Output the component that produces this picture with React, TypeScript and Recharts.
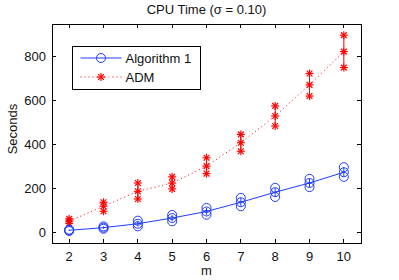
import { LineChart, Line, XAxis, YAxis, ErrorBar } from 'recharts';

const ms = [2, 3, 4, 5, 6, 7, 8, 9, 10];
const algLow = [5, 15, 26, 49, 79, 118, 160, 205, 252];
const algMid = [8, 20, 38, 64, 94, 136, 182, 224, 273];
const algHigh = [11, 26, 52, 78, 110, 156, 202, 243, 296];
const admLow = [40, 95, 151, 197, 267, 369, 484, 621, 751];
const admMid = [50, 118, 186, 224, 301, 408, 530, 672, 824];
const admHigh = [60, 136, 224, 252, 339, 446, 576, 724, 899];
const yTicks = [0, 200, 400, 600, 800];

const X_DOMAIN = [1.5, 10.5];
const Y_DOMAIN = [-50, 950];

const BLUE = '#1f3cff';
const RED = '#ff0000';
const FONT = '"Liberation Sans", Arial, Helvetica, sans-serif';

// chart layout
const W = 399;
const H = 280;
const MARGIN = { top: 24, right: 38, bottom: 0, left: 0 };
const Y_AXIS_W = 52;
const X_AXIS_H = 37;
const PLOT_W = W - MARGIN.left - MARGIN.right - Y_AXIS_W;
const PLOT_H = H - MARGIN.top - MARGIN.bottom - X_AXIS_H;

const rows = ms.map((m, i) => ({
  m,
  algLow: algLow[i],
  alg: algMid[i],
  algHigh: algHigh[i],
  algErr: [algMid[i] - algLow[i], algHigh[i] - algMid[i]],
  admLow: admLow[i],
  adm: admMid[i],
  admHigh: admHigh[i],
  admErr: [admMid[i] - admLow[i], admHigh[i] - admMid[i]],
}));

const TL = 4;
const AXIS = { stroke: '#000', strokeWidth: 1, shapeRendering: 'crispEdges' };

// bottom tick + the matching inward tick on the top edge
function BottomTick({ x, y, payload }: any) {
  const top = y - PLOT_H;
  return (
    <g>
      <line x1={x} y1={y} x2={x} y2={y - TL} {...AXIS} />
      <line x1={x} y1={top} x2={x} y2={top + TL} {...AXIS} />
      <text x={x} y={y + 18} textAnchor="middle" fontSize={13} fontFamily={FONT} fill="#111">
        {payload.value}
      </text>
    </g>
  );
}

// left tick + the matching inward tick on the right edge
function LeftTick({ x, y, payload }: any) {
  const right = x + PLOT_W;
  return (
    <g>
      <line x1={x} y1={y} x2={x + TL} y2={y} {...AXIS} />
      <line x1={right} y1={y} x2={right - TL} y2={y} {...AXIS} />
      <text x={x - 6} y={y + 4.6} textAnchor="end" fontSize={13} fontFamily={FONT} fill="#111">
        {payload.value}
      </text>
    </g>
  );
}

function Circle({ cx, cy }: { cx: number; cy: number }) {
  return <circle cx={cx} cy={cy} r={4.5} fill="none" stroke={BLUE} strokeWidth={1} />;
}

function Star({ cx, cy }: { cx: number; cy: number }) {
  const r = 4;
  const d = r * 0.72;
  return (
    <g stroke={RED} strokeWidth={1.2}>
      <line x1={cx - r} y1={cy} x2={cx + r} y2={cy} />
      <line x1={cx} y1={cy - r} x2={cx} y2={cy + r} />
      <line x1={cx - d} y1={cy - d} x2={cx + d} y2={cy + d} />
      <line x1={cx - d} y1={cy + d} x2={cx + d} y2={cy - d} />
    </g>
  );
}

const circleDot = (p: any) => <Circle key={`c${p.dataKey}${p.index}`} cx={p.cx} cy={p.cy} />;
const starDot = (p: any) => <Star key={`s${p.dataKey}${p.index}`} cx={p.cx} cy={p.cy} />;

export default function App() {
  return (
    <div style={{ position: 'absolute', left: 0, top: 0, width: W, height: H, background: '#fff' }}>
      {/* frame, titles and legend sit underneath the chart layer */}
      <svg width={W} height={H} style={{ position: 'absolute', left: 0, top: 0 }}>
        <rect
          x={MARGIN.left + Y_AXIS_W}
          y={MARGIN.top}
          width={PLOT_W}
          height={PLOT_H}
          fill="none"
          {...AXIS}
        />
        <text x={206.5} y={14} textAnchor="middle" fontSize={13} fontFamily={FONT} fill="#111">
          CPU Time (σ = 0.10)
        </text>
        <text x={206.5} y={275} textAnchor="middle" fontSize={13} fontFamily={FONT} fill="#111">
          m
        </text>
        <text
          x={16.5}
          y={129}
          textAnchor="middle"
          fontSize={13}
          fontFamily={FONT}
          fill="#111"
          transform="rotate(-90 16.5 129)"
        >
          Seconds
        </text>
        <g transform="translate(72, 46)">
          <rect x={0.5} y={0.5} width={127.5} height={43} fill="#fff" stroke="#000" strokeWidth={1} shapeRendering="crispEdges" />
          <line x1={8.5} y1={12} x2={49.5} y2={12} stroke={BLUE} strokeWidth={1} />
          <Circle cx={29} cy={12} />
          <text x={53.5} y={16.6} fontSize={13} fontFamily={FONT} fill="#111">Algorithm 1</text>
          <line x1={8.5} y1={31} x2={49.5} y2={31} stroke={RED} strokeWidth={1} strokeDasharray="1 3" />
          <Star cx={29} cy={31} />
          <text x={53.5} y={35.6} fontSize={13} fontFamily={FONT} fill="#111">ADM</text>
        </g>
      </svg>
      <div style={{ position: 'absolute', left: 0, top: 0 }}>
        <LineChart width={W} height={H} data={rows} margin={MARGIN}>
          <XAxis
            type="number"
            dataKey="m"
            domain={X_DOMAIN}
            ticks={ms}
            interval={0}
            height={X_AXIS_H}
            tickSize={0}
            tickMargin={0}
            tickLine={false}
            axisLine={AXIS}
            tick={<BottomTick />}
          />
          <YAxis
            type="number"
            domain={Y_DOMAIN}
            ticks={yTicks}
            interval={0}
            width={Y_AXIS_W}
            tickSize={0}
            tickMargin={0}
            tickLine={false}
            axisLine={AXIS}
            tick={<LeftTick />}
          />
          <Line
            dataKey="adm"
            name="ADM"
            stroke={RED}
            strokeWidth={1}
            strokeDasharray="1 3"
            dot={starDot}
            activeDot={false}
            isAnimationActive={false}
          >
            <ErrorBar dataKey="admErr" direction="y" width={0} stroke={RED} strokeWidth={1} />
          </Line>
          <Line dataKey="admLow" stroke="none" dot={starDot} activeDot={false} legendType="none" isAnimationActive={false} />
          <Line dataKey="admHigh" stroke="none" dot={starDot} activeDot={false} legendType="none" isAnimationActive={false} />
          <Line
            dataKey="alg"
            name="Algorithm 1"
            stroke={BLUE}
            strokeWidth={1}
            dot={circleDot}
            activeDot={false}
            isAnimationActive={false}
          >
            <ErrorBar dataKey="algErr" direction="y" width={0} stroke={BLUE} strokeWidth={1} />
          </Line>
          <Line dataKey="algLow" stroke="none" dot={circleDot} activeDot={false} legendType="none" isAnimationActive={false} />
          <Line dataKey="algHigh" stroke="none" dot={circleDot} activeDot={false} legendType="none" isAnimationActive={false} />
        </LineChart>
      </div>
    </div>
  );
}
